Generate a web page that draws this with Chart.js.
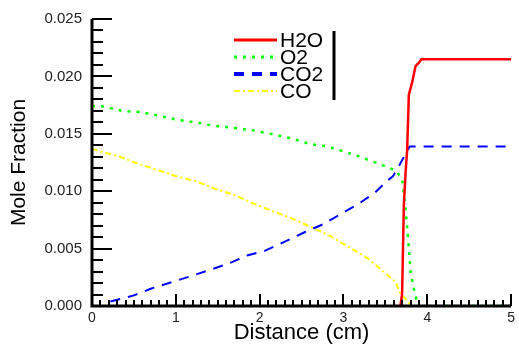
<!DOCTYPE html>
<html>
<head>
<meta charset="utf-8">
<script src="https://cdn.jsdelivr.net/npm/chart.js@4/dist/chart.umd.min.js"></script>
<style>
  html, body { margin: 0; padding: 0; background: #fff; }
  #wrap { width: 519px; height: 346px; }
</style>
</head>
<body>
<div id="wrap"><canvas id="profile-chart"></canvas></div>
<script>
// Species profiles (distance in cm, mole fraction)
const seriesNames = ["H2O", "O2", "CO2", "CO"];

const h2oX = [3.68, 3.70, 3.72, 3.74, 3.76, 3.78, 3.82, 3.86, 3.90, 3.93, 5.0];
const h2oY = [0, 0.0011, 0.0087, 0.0115, 0.0136, 0.0184, 0.0195, 0.0209, 0.0212, 0.0215, 0.0215];

const o2X = [0, 0.11, 0.36, 0.57, 0.78, 1.03, 1.24, 1.45, 1.71, 1.92, 2.13, 2.38, 2.60, 2.81, 3.16, 3.38, 3.49, 3.62, 3.70, 3.74, 3.77, 3.80, 3.84, 3.87, 3.90, 5.0];
const o2Y = [0.0174, 0.0174, 0.0170, 0.0169, 0.0166, 0.0162, 0.0160, 0.0157, 0.0155, 0.0153, 0.0150, 0.0146, 0.0141, 0.0139, 0.0131, 0.0125, 0.0122, 0.0118, 0.0111, 0.0085, 0.0060, 0.0030, 0.0015, 0.0006, 0, 0];

const co2X = [0.22, 0.49, 0.70, 0.96, 1.18, 1.39, 1.63, 1.85, 2.06, 2.30, 2.53, 2.75, 2.99, 3.20, 3.38, 3.52, 3.59, 3.67, 3.79, 5.0];
const co2Y = [0.0004, 0.0009, 0.0015, 0.0021, 0.0026, 0.0031, 0.0037, 0.0044, 0.0048, 0.0056, 0.0064, 0.0071, 0.0081, 0.0090, 0.0099, 0.0109, 0.0113, 0.0123, 0.0139, 0.0139];

const coX = [0, 0.13, 0.34, 0.47, 0.59, 0.80, 1.01, 1.23, 1.47, 1.69, 1.90, 2.14, 2.36, 2.61, 2.84, 3.05, 3.28, 3.38, 3.49, 3.59, 3.63, 3.66, 3.73, 3.77, 3.80, 5.0];
const coY = [0.0137, 0.0134, 0.0130, 0.0126, 0.0123, 0.0118, 0.0113, 0.0109, 0.0102, 0.0097, 0.0090, 0.0083, 0.0077, 0.0069, 0.0061, 0.0052, 0.0042, 0.0036, 0.0029, 0.0023, 0.0020, 0.0013, 0.0007, 0.0004, 0, 0];

// Axis ranges and ticks
const xMin = 0, xMax = 5, xStep = 1, xMinorStep = 0.1;
const yMin = 0, yMax = 0.025, yStep = 0.005, yMinorStep = 0.001;

function toPoints(xs, ys) {
  return xs.map((x, i) => ({ x: x, y: ys[i] }));
}

// Axis lines with inward ticks, drawn over the data
const axesPlugin = {
  id: "inwardAxes",
  afterDatasetsDraw(chart) {
    const { ctx, chartArea: a, scales } = chart;
    const xs = scales.x, ys = scales.y;
    ctx.save();
    ctx.strokeStyle = "#000";
    ctx.lineWidth = 2;
    ctx.beginPath();
    for (let v = yMin; v <= yMax + 1e-9; v += yMinorStep) {
      const major = Math.abs(v / yStep - Math.round(v / yStep)) < 1e-6;
      const py = Math.round(ys.getPixelForValue(v));
      ctx.moveTo(a.left, py);
      ctx.lineTo(a.left + (major ? 20 : 11), py);
    }
    for (let v = xMin; v <= xMax + 1e-9; v += xMinorStep) {
      const major = Math.abs(v / xStep - Math.round(v / xStep)) < 1e-6;
      const px = Math.round(xs.getPixelForValue(v));
      ctx.moveTo(px, a.bottom);
      ctx.lineTo(px, a.bottom - (major ? 12 : 6));
    }
    ctx.stroke();
    ctx.lineWidth = 3;
    ctx.beginPath();
    ctx.moveTo(a.left, a.top);
    ctx.lineTo(a.left, a.bottom);
    ctx.lineTo(a.right, a.bottom);
    ctx.stroke();
    ctx.restore();
  },
};

// Legend box inside the plot
const legendPlugin = {
  id: "insideLegend",
  afterDraw(chart) {
    const ctx = chart.ctx;
    ctx.save();
    ctx.font = "21px 'Liberation Sans', Arial, sans-serif";
    ctx.textBaseline = "middle";
    ctx.fillStyle = "#000";
    chart.data.datasets.forEach((ds, i) => {
      const y = 40 + i * 17;
      ctx.strokeStyle = ds.borderColor;
      ctx.lineWidth = ds.legendWidth;
      ctx.setLineDash(ds.borderDash || []);
      ctx.beginPath();
      ctx.moveTo(234, y);
      ctx.lineTo(277, y);
      ctx.stroke();
      ctx.fillText(ds.label, 280, y + 1);
    });
    ctx.setLineDash([]);
    ctx.strokeStyle = "#000";
    ctx.lineWidth = 3;
    ctx.beginPath();
    ctx.moveTo(334, 31);
    ctx.lineTo(334, 100);
    ctx.stroke();
    ctx.restore();
  },
};

const ctx = document.getElementById("profile-chart");
new Chart(ctx, {
  type: "line",
  data: {
    datasets: [
      {
        label: seriesNames[0],
        data: toPoints(h2oX, h2oY),
        borderColor: "#ff0000",
        borderWidth: 2.5,
        legendWidth: 3,
      },
      {
        label: seriesNames[1],
        data: toPoints(o2X, o2Y),
        borderColor: "#00ff00",
        borderWidth: 2.5,
        borderDash: [3, 6],
        legendWidth: 3,
      },
      {
        label: seriesNames[2],
        data: toPoints(co2X, co2Y),
        borderColor: "#0000ff",
        borderWidth: 2,
        borderDash: [10, 8],
        legendWidth: 4,
      },
      {
        label: seriesNames[3],
        data: toPoints(coX, coY),
        borderColor: "#ffff00",
        borderWidth: 2,
        borderDash: [6, 3, 2, 3],
        legendWidth: 2,
      },
    ],
  },
  options: {
    responsive: true,
    maintainAspectRatio: false,
    animation: false,
    layout: { padding: { top: 19, right: 3, left: 0, bottom: 0 } },
    elements: { point: { radius: 0 }, line: { tension: 0 } },
    plugins: {
      legend: { display: false },
      tooltip: { enabled: false },
    },
    scales: {
      x: {
        type: "linear",
        min: xMin,
        max: xMax,
        grid: { display: false, drawTicks: false },
        border: { display: false },
        ticks: {
          stepSize: xStep,
          padding: 4,
          color: "#222",
          font: { size: 14, family: "'Liberation Sans', Arial, sans-serif" },
        },
        title: {
          display: true,
          text: "Distance (cm)",
          color: "#000",
          padding: { top: 0, bottom: 0 },
          font: { size: 22, family: "'Liberation Sans', Arial, sans-serif" },
        },
        afterFit(scale) {
          scale.height = 40;
        },
      },
      y: {
        type: "linear",
        min: yMin,
        max: yMax,
        grid: { display: false, drawTicks: false },
        border: { display: false },
        ticks: {
          stepSize: yStep,
          padding: 10,
          color: "#222",
          font: { size: 15, family: "'Liberation Sans', Arial, sans-serif" },
          callback: function (value) {
            return value.toFixed(3);
          },
        },
        title: {
          display: true,
          text: "Mole Fraction",
          color: "#000",
          padding: { top: 7, bottom: 0 },
          font: { size: 21, family: "'Liberation Sans', Arial, sans-serif" },
        },
        afterFit(scale) {
          scale.width = 92;
        },
      },
    },
  },
  plugins: [axesPlugin, legendPlugin],
});
</script>
</body>
</html>
